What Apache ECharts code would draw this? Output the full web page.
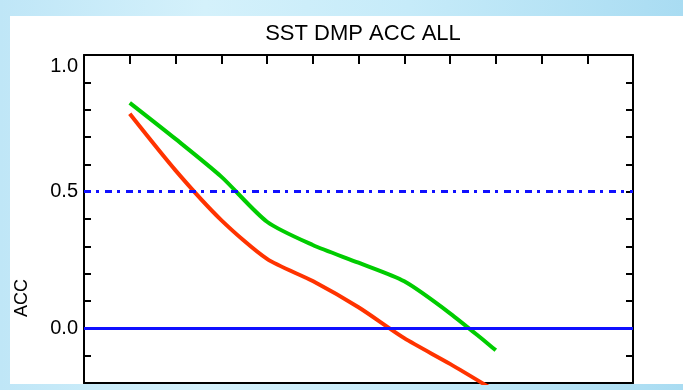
<!DOCTYPE html>
<html>
<head>
<meta charset="utf-8">
<script src="https://cdn.jsdelivr.net/npm/echarts@6/dist/echarts.min.js"></script>
<style>
  html, body { margin: 0; padding: 0; }
  body {
    width: 683px; height: 390px; overflow: hidden; position: relative;
    background: linear-gradient(90deg, #bfe6f7 0%, #d4f1fb 30%, #c6ebf9 60%, #a9dcf2 100%);
  }
  #panel { position: absolute; left: 10px; top: 16px; width: 673px; height: 368px; background: #ffffff; }
  #chart { position: absolute; left: 0; top: 0; width: 683px; height: 390px; }
</style>
</head>
<body>
<div id="panel"></div>
<div id="chart"></div>
<script>
// ---- data ----
const titleText = 'SST DMP ACC ALL';
const yName = 'ACC';
const leads = [1, 2, 3, 4, 5, 6, 7, 8, 9];
const greenAcc = [0.825, 0.693, 0.555, 0.390, 0.305, 0.240, 0.172, 0.055, -0.080];
const redAcc   = [0.785, 0.578, 0.396, 0.254, 0.173, 0.077, -0.036, -0.130, -0.230];
const yTickLabels = ['0.0', '0.5', '1.0'];
const refDashValue = 0.5;
const refSolidValue = 0.0;

const chart = echarts.init(document.getElementById('chart'), null, { renderer: 'canvas' });
const FONT = 'Liberation Sans, Arial, sans-serif';

function pairs(xs, ys) { return xs.map((x, i) => [x, ys[i]]); }

const yLabelFmt = function (v) {
  const r = Math.round(v * 10);
  if (r < 0 || r % 5 !== 0) return '';
  const s = (r / 10).toFixed(1);
  if (yTickLabels.indexOf(s) < 0) return '';
  return s === '1.0' ? '{top|' + s + '}' : s;
};

const axisLineStyle = { show: true, onZero: false, lineStyle: { color: '#000', width: 2 } };
const tickStyle = { color: '#000', width: 2 };

const option = {
  backgroundColor: 'transparent',
  animation: false,
  title: {
    text: titleText,
    left: 358, top: 18, textAlign: 'center',
    textStyle: { fontFamily: FONT, fontSize: 22, fontWeight: 'normal', color: '#000' }
  },
  graphic: [{
    type: 'text', x: 22, y: 298, rotation: Math.PI / 2,
    style: { text: yName, fontFamily: FONT, fontSize: 18, fill: '#000', textAlign: 'center', textVerticalAlign: 'middle' }
  }],
  grid: { left: 84, right: 50, top: 55, bottom: 7, containLabel: false },
  xAxis: [
    {
      type: 'value', position: 'bottom', min: 0, max: 12, interval: 1,
      axisLine: axisLineStyle,
      axisTick: { show: false }, axisLabel: { show: false }, splitLine: { show: false }
    },
    {
      type: 'value', position: 'top', min: 0, max: 12, interval: 1,
      axisLine: axisLineStyle,
      axisTick: { show: true, inside: true, length: 9, lineStyle: tickStyle },
      axisLabel: { show: false }, splitLine: { show: false }
    }
  ],
  yAxis: [
    {
      type: 'value', position: 'left', min: -0.2, max: 1.0, interval: 0.1,
      axisLine: axisLineStyle,
      axisTick: { show: true, inside: true, length: 7, lineStyle: tickStyle },
      axisLabel: {
        show: true, margin: 6, formatter: yLabelFmt, color: '#000',
        fontFamily: FONT, fontSize: 20,
        rich: { top: { fontFamily: FONT, fontSize: 20, color: '#000', padding: [22, 0, 0, 0] } }
      },
      splitLine: { show: false }
    },
    {
      type: 'value', position: 'right', min: -0.2, max: 1.0, interval: 0.1,
      axisLine: axisLineStyle,
      axisTick: { show: true, inside: true, length: 7, lineStyle: tickStyle },
      axisLabel: { show: false }, splitLine: { show: false }
    }
  ],
  series: [
    {
      name: 'green', type: 'line', xAxisIndex: 0, yAxisIndex: 0,
      data: pairs(leads, greenAcc), showSymbol: false, symbol: 'none', clip: true,
      smooth: 0.25,
      lineStyle: { color: '#00cc00', width: 4 }, z: 3,
      markLine: {
        silent: true, symbol: 'none', label: { show: false },
        data: [
          { yAxis: refDashValue, lineStyle: { color: '#1010ff', width: 3, type: [7, 5, 3, 6] } },
          { yAxis: refSolidValue, lineStyle: { color: '#1010ff', width: 3, type: 'solid' } }
        ]
      }
    },
    {
      name: 'red', type: 'line', xAxisIndex: 0, yAxisIndex: 0,
      data: pairs(leads, redAcc), showSymbol: false, symbol: 'none', clip: true,
      smooth: 0.25,
      lineStyle: { color: '#ff3300', width: 4 }, z: 4
    }
  ]
};
chart.setOption(option);
</script>
</body>
</html>
